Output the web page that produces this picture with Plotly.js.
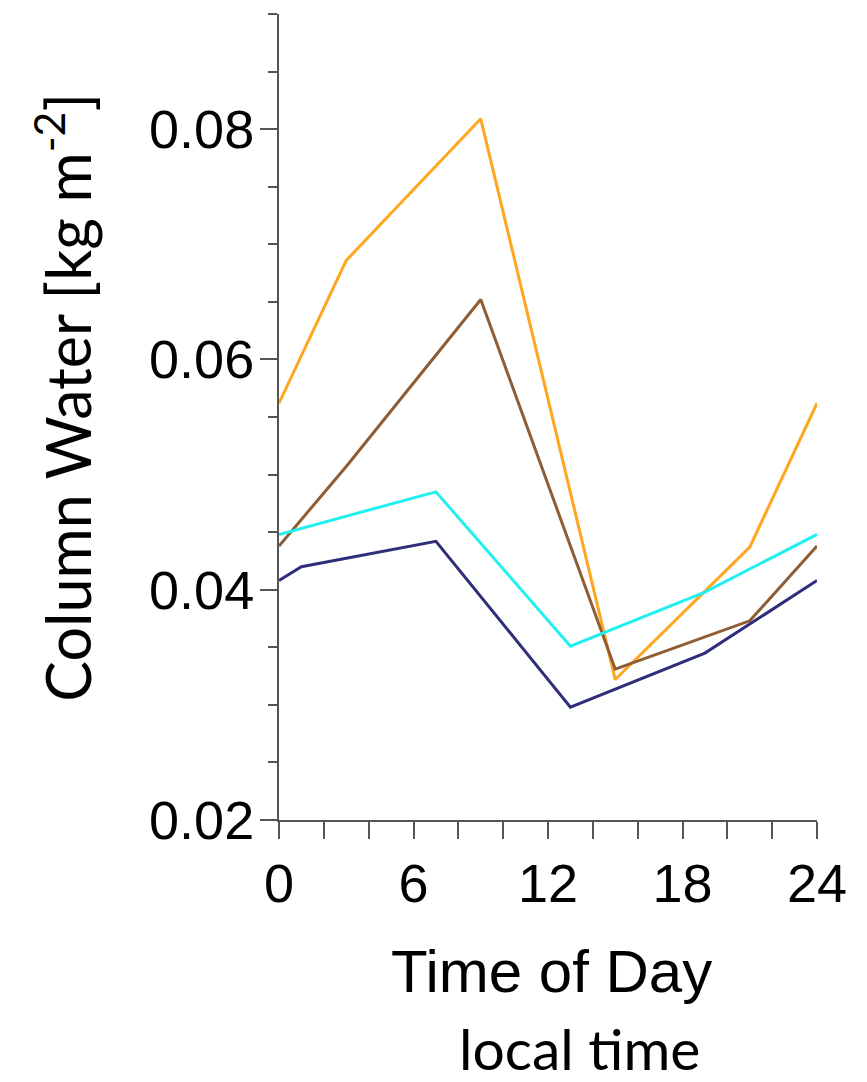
<!DOCTYPE html>
<html>
<head>
<meta charset="utf-8">
<script src="https://cdn.plot.ly/plotly-3.0.1.min.js"></script>
<style>
  html, body { margin: 0; padding: 0; background: #fff; }
  #chart { width: 867px; height: 1082px; }
</style>
</head>
<body>
<div id="chart"></div>
<script>
// Diurnal cycle of column water, local time (hours)
const orangeHours = [0, 3, 9, 15, 21, 24];
const orangeValues = [0.0562, 0.0686, 0.0809, 0.0322, 0.0437, 0.0562];

const brownHours = [0, 3, 9, 15, 21, 24];
const brownValues = [0.0438, 0.0507, 0.0652, 0.0331, 0.0373, 0.0438];

const cyanHours = [0, 7, 13, 19, 24];
const cyanValues = [0.0448, 0.0485, 0.0351, 0.0398, 0.0448];

const navyHours = [0, 1, 7, 13, 19, 24];
const navyValues = [0.0408, 0.0420, 0.0442, 0.0298, 0.0345, 0.0408];

const xTickValues = [0, 6, 12, 18, 24];
const xTickLabels = ['0', '6', '12', '18', '24'];
const yTickValues = [0.02, 0.04, 0.06, 0.08];
const yTickLabels = ['0.02', '0.04', '0.06', '0.08'];

function series(x, y, color) {
  return {
    x: x, y: y, type: 'scatter', mode: 'lines',
    line: { color: color, width: 3 },
    hoverinfo: 'skip', showlegend: false
  };
}

const data = [
  series(orangeHours, orangeValues, '#FFA51E'),
  series(brownHours, brownValues, '#8F5C33'),
  series(cyanHours, cyanValues, '#22F0F0'),
  series(navyHours, navyValues, '#2E2E7A')
];

const tickFont = { family: 'Liberation Sans, Arial, sans-serif', size: 54, color: '#000' };
const titleFont = { family: 'Lato, Open Sans, sans-serif', size: 61, color: '#000' };

const layout = {
  width: 867, height: 1082,
  margin: { l: 279.4, r: 50.3, t: 13.8, b: 262 },
  paper_bgcolor: '#fff', plot_bgcolor: '#fff',
  xaxis: {
    range: [0, 24], showgrid: false, zeroline: false,
    showline: true, linecolor: '#555', linewidth: 2,
    tickmode: 'array', tickvals: xTickValues, ticktext: xTickLabels,
    ticks: 'outside', ticklen: 17, tickwidth: 2, tickcolor: '#555',
    ticklabelstandoff: -2,
    minor: { dtick: 2, tick0: 0, ticks: 'outside', ticklen: 17, tickwidth: 2, tickcolor: '#555', showgrid: false },
    tickfont: tickFont, fixedrange: true
  },
  yaxis: {
    range: [0.02, 0.09], showgrid: false, zeroline: false,
    showline: true, linecolor: '#555', linewidth: 2,
    tickmode: 'array', tickvals: yTickValues, ticktext: yTickLabels,
    ticks: 'outside', ticklen: 17, tickwidth: 2, tickcolor: '#555',
    ticklabelstandoff: -5,
    minor: { dtick: 0.005, tick0: 0.02, ticks: 'outside', ticklen: 9, tickwidth: 2, tickcolor: '#555', showgrid: false },
    tickfont: tickFont, fixedrange: true
  },
  annotations: [
    {
      text: 'Column Water [kg m<sup>-2</sup>]',
      xref: 'paper', yref: 'paper', x: -0.40, y: 0.525,
      textangle: -90, showarrow: false, font: titleFont,
      xanchor: 'center', yanchor: 'middle'
    },
    {
      text: 'Time of Day',
      xref: 'paper', yref: 'paper', x: 0.507, y: -0.188,
      showarrow: false, font: { family: 'Liberation Sans, Arial, sans-serif', size: 60, color: '#000' },
      xanchor: 'center', yanchor: 'middle'
    },
    {
      text: 'local time',
      xref: 'paper', yref: 'paper', x: 0.559, y: -0.283,
      showarrow: false, font: { family: 'Lato, Open Sans, sans-serif', size: 57, color: '#000' },
      xanchor: 'center', yanchor: 'middle'
    }
  ]
};

Plotly.newPlot('chart', data, layout, { staticPlot: true, displayModeBar: false });
</script>
</body>
</html>
